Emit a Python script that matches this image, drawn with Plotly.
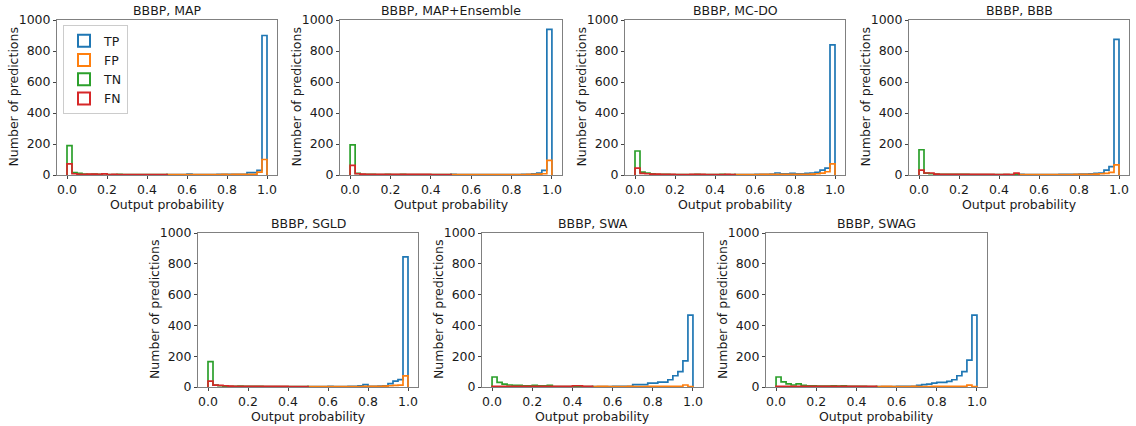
import plotly.graph_objects as go

# ---------------- data ----------------
titles = ["BBBP, MAP", "BBBP, MAP+Ensemble", "BBBP, MC-DO", "BBBP, BBB",
          "BBBP, SGLD", "BBBP, SWA", "BBBP, SWAG"]
classes = ["TP", "FP", "TN", "FN"]
x_title = "Output probability"
y_title = "Number of predictions"

neg_edges = [0.0, 0.025, 0.05, 0.075, 0.1, 0.125, 0.15, 0.175, 0.2, 0.225, 0.25,
             0.275, 0.3, 0.325, 0.35, 0.375, 0.4, 0.425, 0.45, 0.475, 0.5]
pos_edges = [0.5, 0.525, 0.55, 0.575, 0.6, 0.625, 0.65, 0.675, 0.7, 0.725, 0.75,
             0.775, 0.8, 0.825, 0.85, 0.875, 0.9, 0.925, 0.95, 0.975, 1.0]

x_ticks = [0.0, 0.2, 0.4, 0.6, 0.8, 1.0]
y_ticks = [0, 200, 400, 600, 800, 1000]

map_tp = [3, 3, 3, 3, 6, 3, 2, 3, 3, 3, 4, 4, 5, 5, 5, 5, 15, 15, 30, 900]
map_fp = [2, 2, 2, 2, 2, 2, 2, 3, 2, 3, 3, 4, 3, 4, 5, 5, 5, 5, 18, 100]
map_tn = [190, 15, 10, 6, 5, 6, 5, 8, 3, 3, 4, 2, 3, 2, 2, 2, 2, 2, 2, 2]
map_fn = [72, 8, 5, 4, 6, 6, 5, 7, 3, 4, 3, 3, 2, 2, 3, 2, 2, 2, 2, 2]

ens_tp = [5, 3, 3, 2, 2, 2, 2, 2, 2, 2, 2, 2, 3, 3, 5, 5, 8, 12, 30, 940]
ens_fp = [2, 2, 2, 2, 2, 2, 2, 2, 2, 2, 2, 3, 3, 3, 3, 4, 4, 6, 8, 95]
ens_tn = [195, 10, 5, 4, 4, 3, 3, 5, 3, 3, 4, 3, 3, 3, 2, 2, 2, 2, 2, 2]
ens_fn = [62, 8, 6, 5, 4, 4, 4, 5, 4, 4, 4, 4, 4, 4, 4, 4, 3, 3, 3, 3]

mcdo_tp = [3, 3, 3, 3, 4, 5, 5, 6, 13, 8, 7, 10, 8, 8, 10, 13, 17, 32, 45, 840]
mcdo_fp = [3, 3, 3, 3, 3, 4, 4, 4, 4, 4, 4, 5, 5, 5, 5, 6, 8, 12, 21, 72]
mcdo_tn = [155, 18, 12, 8, 5, 4, 4, 3, 3, 2, 3, 3, 4, 3, 3, 3, 3, 4, 3, 2]
mcdo_fn = [45, 10, 8, 6, 6, 5, 4, 4, 2, 2, 3, 4, 5, 4, 3, 3, 3, 3, 4, 3]

bbb_tp = [4, 3, 3, 3, 3, 3, 3, 3, 4, 4, 5, 5, 6, 6, 8, 10, 13, 32, 54, 875]
bbb_fp = [3, 3, 3, 3, 3, 3, 3, 3, 3, 3, 3, 4, 4, 5, 5, 6, 8, 10, 17, 65]
bbb_tn = [163, 12, 8, 6, 5, 5, 5, 4, 4, 4, 3, 3, 3, 3, 3, 3, 3, 3, 3, 5]
bbb_fn = [32, 13, 13, 6, 5, 5, 4, 4, 4, 4, 4, 5, 4, 4, 4, 3, 3, 4, 3, 12]

sgld_tp = [3, 3, 3, 3, 4, 3, 3, 3, 4, 5, 8, 15, 5, 5, 6, 8, 22, 38, 48, 845]
sgld_fp = [3, 3, 3, 3, 3, 3, 3, 3, 3, 3, 3, 4, 4, 5, 5, 6, 8, 10, 12, 72]
sgld_tn = [165, 12, 8, 6, 5, 5, 6, 5, 4, 4, 4, 3, 3, 3, 3, 3, 3, 3, 3, 3]
sgld_fn = [38, 12, 10, 8, 6, 5, 5, 5, 4, 4, 4, 4, 4, 4, 4, 4, 3, 3, 3, 3]

swa_tp = [3, 3, 3, 3, 4, 5, 5, 5, 15, 15, 15, 25, 25, 32, 32, 47, 73, 100, 170, 467]
swa_fp = [3, 5, 4, 3, 3, 3, 3, 4, 3, 3, 3, 5, 5, 5, 5, 5, 5, 5, 13, 3]
swa_tn = [65, 30, 19, 13, 11, 10, 8, 8, 10, 8, 8, 10, 3, 3, 3, 3, 3, 3, 2, 2]
swa_fn = [4, 4, 4, 4, 4, 4, 4, 4, 4, 5, 5, 4, 4, 4, 4, 4, 8, 8, 4, 4]

swag_tp = [3, 3, 3, 3, 4, 5, 5, 5, 10, 15, 19, 25, 30, 30, 36, 47, 73, 100, 175, 467]
swag_fp = [3, 4, 4, 3, 3, 3, 3, 4, 3, 3, 3, 4, 4, 5, 5, 5, 5, 5, 12, 3]
swag_tn = [65, 33, 20, 13, 20, 10, 8, 8, 6, 6, 6, 8, 6, 8, 5, 5, 4, 4, 3, 3]
swag_fn = [4, 4, 4, 4, 4, 4, 4, 4, 4, 4, 4, 4, 4, 5, 5, 5, 5, 5, 5, 4]

panels = [
    (map_tp, map_fp, map_tn, map_fn),
    (ens_tp, ens_fp, ens_tn, ens_fn),
    (mcdo_tp, mcdo_fp, mcdo_tn, mcdo_fn),
    (bbb_tp, bbb_fp, bbb_tn, bbb_fn),
    (sgld_tp, sgld_fp, sgld_tn, sgld_fn),
    (swa_tp, swa_fp, swa_tn, swa_fn),
    (swag_tp, swag_fp, swag_tn, swag_fn),
]

# ---------------- style / layout ----------------
colors = {"TP": "#1f77b4", "FP": "#ff7f0e", "TN": "#2ca02c", "FN": "#d62728"}
W, H = 1136, 426
FONT = "DejaVu Sans"
FS = 12.5
TXT = "#1a1a1a"

# pixel boxes of each panel (left, right, top, bottom)
boxes = [
    (57, 277, 20, 175), (340, 562, 20, 175), (625, 845, 20, 175), (909, 1129, 20, 175),
    (198, 418, 233, 387), (482, 703, 233, 387), (766, 987, 233, 387),
]


def step_xy(edges, counts):
    xs = [edges[0]]
    ys = [0]
    for i, c in enumerate(counts):
        xs.append(edges[i])
        ys.append(c)
    xs.append(edges[-1])
    ys.append(0)
    return xs, ys


fig = go.Figure()
layout = dict(
    width=W, height=H, autosize=False,
    margin=dict(l=0, r=0, t=0, b=0, pad=0, autoexpand=False),
    paper_bgcolor="white", plot_bgcolor="white",
    font=dict(family=FONT, size=FS, color=TXT),
    showlegend=True,
    legend=dict(x=63 / W, y=1 - 25 / H, xanchor="left", yanchor="top",
                bgcolor="rgba(255,255,255,0.9)", bordercolor="#cccccc", borderwidth=1,
                font=dict(family=FONT, size=FS, color=TXT),
                tracegroupgap=0, itemwidth=30),
    annotations=[],
)

for k, (counts, box) in enumerate(zip(panels, boxes)):
    idx = k + 1
    xa = "x" if idx == 1 else f"x{idx}"
    ya = "y" if idx == 1 else f"y{idx}"
    l, r, t, b = box
    layout["xaxis" if idx == 1 else f"xaxis{idx}"] = dict(
        domain=[l / W, r / W], anchor=ya, range=[-0.05, 1.05], automargin=False,
        tickvals=x_ticks, tickformat=".1f", ticks="outside", ticklen=3,
        tickcolor="#444444", showline=True, linecolor="#808080", linewidth=1,
        mirror=True, showgrid=False, zeroline=False,
        tickfont=dict(family=FONT, size=FS, color=TXT),
    )
    layout["yaxis" if idx == 1 else f"yaxis{idx}"] = dict(
        domain=[1 - b / H, 1 - t / H], anchor=xa, range=[0, 1000], automargin=False,
        tickvals=y_ticks, ticks="outside", ticklen=3,
        tickcolor="#444444", showline=True, linecolor="#808080", linewidth=1,
        mirror=True, showgrid=False, zeroline=False,
        tickfont=dict(family=FONT, size=FS, color=TXT),
    )
    # panel title
    layout["annotations"].append(dict(
        text=titles[k], xref="paper", yref="paper",
        x=(l + r) / 2 / W, y=1 - t / H, xanchor="center", yanchor="bottom",
        yshift=0, showarrow=False,
        font=dict(family=FONT, size=FS, color=TXT),
    ))
    # x axis title
    layout["annotations"].append(dict(
        text=x_title, xref="paper", yref="paper",
        x=(l + r) / 2 / W, y=1 - (b + 29) / H, xanchor="center", yanchor="middle",
        showarrow=False, font=dict(family=FONT, size=FS, color=TXT),
    ))
    # y axis title
    layout["annotations"].append(dict(
        text=y_title, xref="paper", yref="paper", textangle=-90,
        x=(l - 44) / W, y=1 - (t + b) / 2 / H, xanchor="center", yanchor="middle",
        showarrow=False, font=dict(family=FONT, size=FS, color=TXT),
    ))
    for name, vals in zip(classes, counts):
        edges = pos_edges if name in ("TP", "FP") else neg_edges
        xs, ys = step_xy(edges, vals)
        fig.add_trace(go.Scatter(
            x=xs, y=ys, mode="lines", line=dict(color=colors[name], width=1.7, shape="hv"),
            xaxis=xa, yaxis=ya, showlegend=False, legendgroup=name, hoverinfo="skip",
        ))

# legend entries (outlined boxes like matplotlib step patches)
for name in classes:
    fig.add_trace(go.Bar(
        x=[None], y=[None], name=name, legendgroup=name,
        marker=dict(color="rgba(0,0,0,0)", line=dict(color=colors[name], width=2)),
        xaxis="x", yaxis="y", showlegend=True,
    ))

fig.update_layout(**layout)
fig.write_html(
    "out.html",
    config={"displayModeBar": False},
    post_script="document.body.style.margin='0';document.body.style.padding='0';"
                "document.body.style.overflow='hidden';",
)
